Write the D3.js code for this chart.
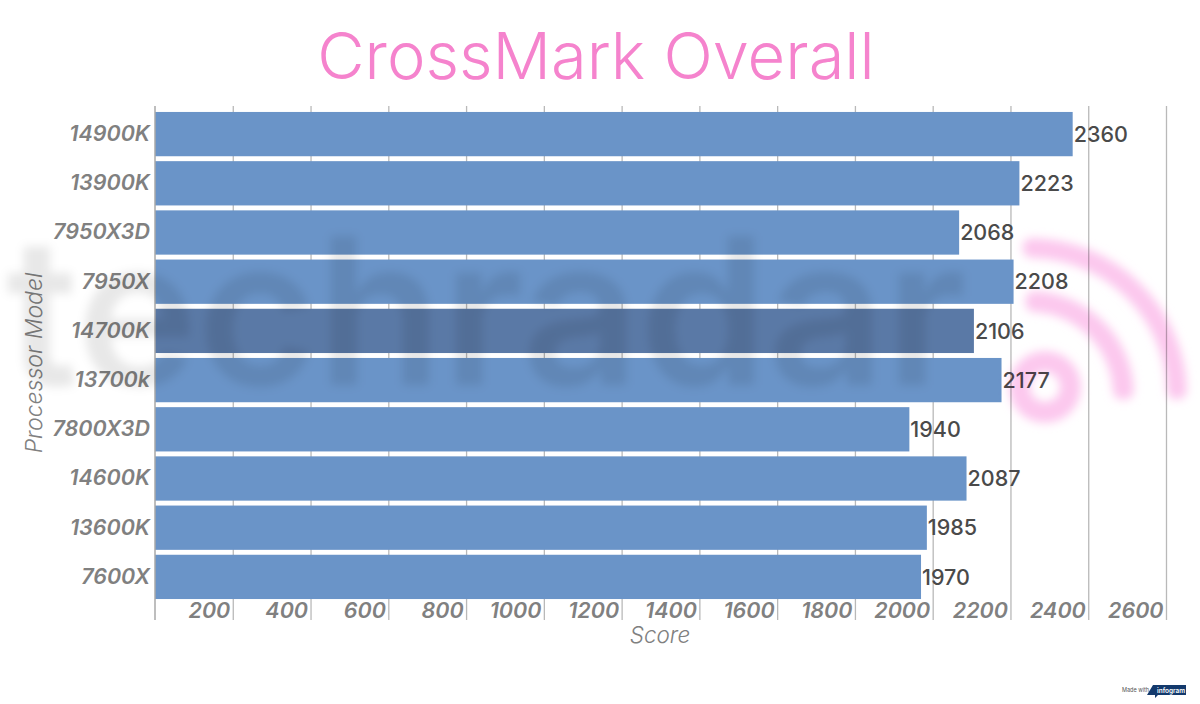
<!DOCTYPE html>
<html><head><meta charset="utf-8">
<script src="https://cdn.jsdelivr.net/npm/d3@7"></script>
<style>
html,body{margin:0;padding:0;background:#fff;overflow:hidden}
svg{display:block}
text{font-family:Inter,"Open Sans",sans-serif}
</style></head><body>
<svg id="c" width="1200" height="704"></svg>
<script>
const categories=["14900K","13900K","7950X3D","7950X","14700K","13700k","7800X3D","14600K","13600K","7600X"];
const values=[2360,2223,2068,2208,2106,2177,1940,2087,1985,1970];
const shaded=["14700K"];
const xTicks=[200,400,600,800,1000,1200,1400,1600,1800,2000,2200,2400,2600];
const titleText="CrossMark Overall";
const xTitle="Score", yTitle="Processor Model";

const svg=d3.select("#c");
const x=d3.scaleLinear().domain([0,2600]).range([155,1166]);
const y=d3.scaleBand().domain(categories).range([109.5,601.5]).paddingInner(0.1).paddingOuter(0.05);

const defs=svg.append("defs");
defs.append("filter").attr("id","blur").attr("x","-5%").attr("y","-20%").attr("width","110%").attr("height","140%")
  .append("feGaussianBlur").attr("stdDeviation",5);

svg.append("text").attr("x",596).attr("y",79).attr("text-anchor","middle")
  .attr("font-size",65).attr("font-weight",300).attr("fill","#f583cd").text(titleText);

// grid + x axis
const xAxis=d3.axisBottom(x).tickValues(xTicks).tickFormat(d3.format("d")).tickSize(0).tickPadding(0);
const gx=svg.append("g").attr("transform","translate(0,601)").call(xAxis);
gx.select(".domain").remove();
gx.selectAll(".tick line").attr("y1",-495).attr("y2",19).attr("stroke","#b9b9b9").attr("stroke-width",1.3);
gx.selectAll(".tick text").attr("x",-3).attr("y",9).attr("dy","0.35em").attr("text-anchor","end")
  .attr("font-size",21.5).attr("font-style","italic").attr("font-weight",600).attr("fill","#808080");

// bars
svg.append("g").selectAll("rect").data(categories).join("rect")
  .attr("x",x(0)).attr("y",d=>y(d)).attr("height",y.bandwidth())
  .attr("width",(d,i)=>x(values[i])-x(0))
  .attr("fill",d=>shaded.includes(d)?"#5a79a6":"#6a94c8");

// y axis
const gy=svg.append("g").attr("transform","translate(155,0)").call(d3.axisLeft(y).tickSize(0).tickPadding(5));
gy.select(".domain").attr("d","M0,106V620").attr("stroke","#a8a8a8").attr("stroke-width",1.5);
gy.selectAll(".tick text").attr("font-size",21.5).attr("font-style","italic").attr("font-weight",600).attr("fill","#808080");

// value labels
svg.append("g").selectAll("text").data(categories).join("text")
  .attr("x",(d,i)=>x(values[i])+1).attr("y",d=>y(d)+y.bandwidth()/2).attr("dy","0.36em")
  .attr("font-size",21.5).attr("font-weight",500).attr("fill","#4a4a4a")
  .text((d,i)=>values[i]);

// axis titles
svg.append("text").attr("x",660).attr("y",643).attr("text-anchor","middle")
  .attr("font-size",22.5).attr("font-style","italic").attr("font-weight",300).attr("fill","#808080").text(xTitle);
svg.append("text").attr("transform","translate(42,363) rotate(-90)").attr("text-anchor","middle")
  .attr("font-size",23).attr("font-style","italic").attr("font-weight",300).attr("fill","#808080").text(yTitle);

// watermark
const wm=svg.append("g").attr("filter","url(#blur)").style("mix-blend-mode","multiply");
wm.append("text").attr("x",6).attr("y",385).attr("font-size",205).attr("font-weight",600)
  .attr("fill","#000").attr("opacity",0.09).text("techradar");
const arc=d3.arc().cornerRadius(9);
const pink="#fcc8ee";
wm.append("path").attr("transform","translate(1045,387)").attr("fill",pink)
  .attr("d",arc({innerRadius:15,outerRadius:36,startAngle:0,endAngle:2*Math.PI}));
wm.append("path").attr("transform","translate(1030,395)").attr("fill",pink)
  .attr("d",arc({innerRadius:83,outerRadius:104,startAngle:-0.05,endAngle:Math.PI/2+0.05}));
wm.append("path").attr("transform","translate(1030,395)").attr("fill",pink)
  .attr("d",arc({innerRadius:137,outerRadius:157,startAngle:-0.05,endAngle:Math.PI/2+0.03}));

// made with
svg.append("text").attr("x",1122).attr("y",692).attr("font-size",5.5).attr("fill","#555").text("Made with");
svg.append("path").attr("d",d3.line()([[1153,685],[1186,685],[1186,695],[1158,695],[1155,698],[1155,695],[1147,695]])+"Z").attr("fill","#13396c");
svg.append("text").attr("x",1157).attr("y",692.5).attr("font-size",6.5).attr("font-weight",600).attr("fill","#fff").text("infogram");
</script>
</body></html>
